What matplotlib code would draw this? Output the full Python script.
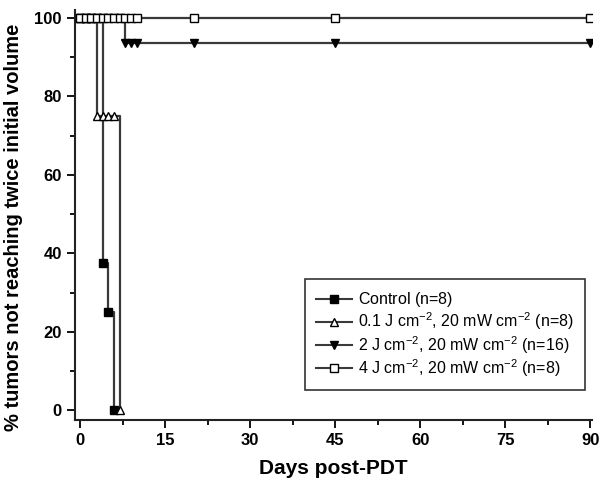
import matplotlib.pyplot as plt
import numpy as np

plt.rcParams['font.family'] = ['Liberation Sans', 'DejaVu Sans']
plt.rcParams['mathtext.fontset'] = 'custom'
plt.rcParams['mathtext.rm'] = 'Liberation Sans'
plt.rcParams['mathtext.default'] = 'regular'

# * step curves: (times, values)
ctrl_t = [0, 4, 5, 6]
ctrl_v = [100, 37.5, 25, 0]
ctrl_mx = [0, 1, 2, 3, 4, 5, 6]
ctrl_my = [100, 100, 100, 100, 37.5, 25, 0]

low_t = [0, 3, 7]
low_v = [100, 75, 0]
low_mx = [0, 1, 2, 3, 4, 5, 6, 7]
low_my = [100, 100, 100, 75, 75, 75, 75, 0]

mid_t = [0, 8, 90]
mid_v = [100, 93.75, 93.75]
mid_mx = [0, 1, 2, 3, 4, 5, 6, 7, 8, 9, 10, 20, 45, 90]
mid_my = [100] * 8 + [93.75] * 6

high_t = [0, 90]
high_v = [100, 100]
high_mx = [0, 1, 2, 3, 4, 5, 6, 7, 8, 9, 10, 20, 45, 90]
high_my = [100] * 14

labels = [r'Control (n=8)$^{\ }$',
          r'0.1 J cm$^{-2}$, 20 mW cm$^{-2}$ (n=8)',
          r'2 J cm$^{-2}$, 20 mW cm$^{-2}$ (n=16)',
          r'4 J cm$^{-2}$, 20 mW cm$^{-2}$ (n=8)']

fig = plt.figure(figsize=(6, 4.84), dpi=100)
ax = fig.add_axes([0.125, 0.132, 0.862, 0.847])

line_c = '#3a3a3a'
series = [
  (ctrl_t, ctrl_v, ctrl_mx, ctrl_my, 's', 'black'),
  (low_t, low_v, low_mx, low_my, '^', 'white'),
  (mid_t, mid_v, mid_mx, mid_my, 'v', 'black'),
  (high_t, high_v, high_mx, high_my, 's', 'white'),
]
handles = []
for i, (t, v, mx, my, m, fc) in enumerate(series):
  ax.plot(t, v, drawstyle='steps-post', color=line_c, lw=1.6, zorder=2 + i)
  ax.plot(mx, my, ls='none', marker=m, ms=6, mfc=fc, mec='black', mew=1, zorder=2 + i)
  h, = ax.plot([], [], color=line_c, lw=1.5, marker=m, ms=6, mfc=fc, mec='black', mew=1)
  handles.append(h)

ax.set_xlim(-0.9, 90.3)
ax.set_ylim(-2.5, 102)
ax.set_xticks(np.arange(0, 91, 15))
ax.set_xticks(np.arange(7.5, 91, 15), minor=True)
ax.set_yticks(np.arange(0, 101, 20))
ax.set_yticks(np.arange(10, 101, 20), minor=True)
ax.spines['top'].set_visible(False)
ax.spines['right'].set_visible(False)
for s in ['left', 'bottom']:
  ax.spines[s].set_linewidth(1.5)
  ax.spines[s].set_color('#222222')
ax.tick_params(which='major', direction='out', length=6, width=1.3, labelsize=12)
ax.tick_params(which='minor', direction='out', length=3.5, width=1.3)
for lab in ax.get_xticklabels() + ax.get_yticklabels():
  lab.set_fontweight('bold')

ax.set_xlabel('Days post-PDT', fontsize=15, fontweight='bold', labelpad=8)
ax.set_ylabel('% tumors not reaching twice initial volume', fontsize=14.5, fontweight='bold')
ax.yaxis.set_label_coords(-0.1, 0.47)

leg = ax.legend(handles, labels, loc='lower right', bbox_to_anchor=(0.986, 0.073),
  fontsize=11.5, frameon=True, fancybox=False, edgecolor='black', handlelength=2.2,
  borderpad=0.7, labelspacing=0.1, handletextpad=0.4, borderaxespad=0)
leg.get_frame().set_linewidth(1.2)

plt.savefig('out.png', dpi=100)
